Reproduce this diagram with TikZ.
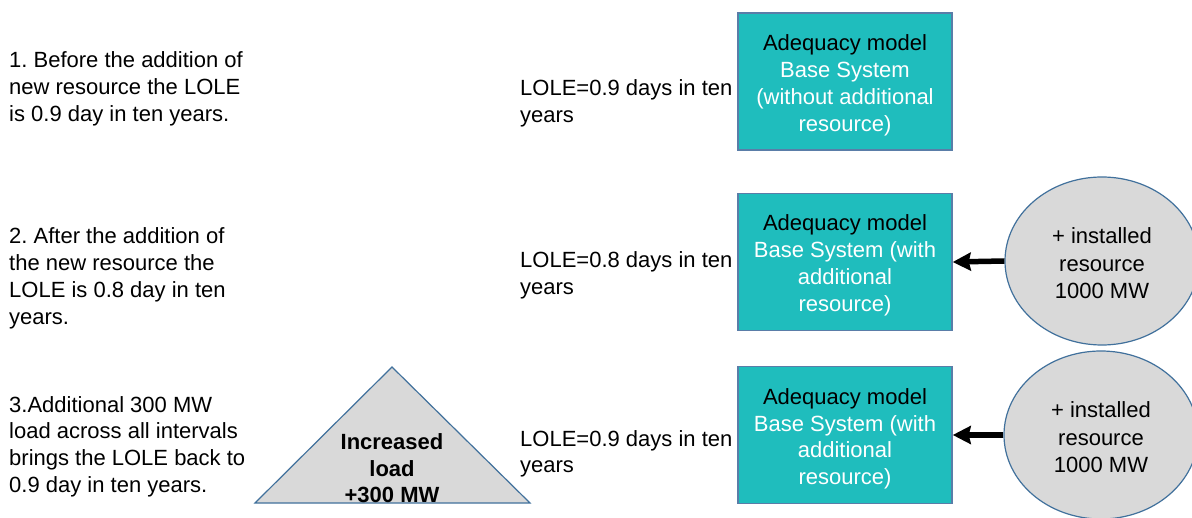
\documentclass[tikz,border=0pt]{standalone}
\usepackage{fontspec}
\setmainfont{Liberation Sans}
\frenchspacing
\usetikzlibrary{shapes.geometric,arrows.meta}
\definecolor{tealfill}{HTML}{1FBDBD}
\definecolor{ellbord}{HTML}{41719C}
\definecolor{boxbord}{HTML}{5A7DA8}
\definecolor{greyfill}{HTML}{D9D9D9}
\begin{document}
\begin{tikzpicture}[x=1pt,y=-1pt,
  txt/.style={font=\fontsize{22}{27}\selectfont, inner sep=0pt, align=left, anchor=base west},
  model/.style={draw=boxbord, line width=1.5pt, fill=tealfill, text=black,
    minimum width=214pt, minimum height=137pt, align=center,
    font=\fontsize{22}{27}\selectfont, inner sep=0pt, text height=100pt, text depth=0pt},
  res/.style={ellipse, draw=ellbord, line width=1.2pt, fill=greyfill,
    minimum width=194pt, minimum height=168pt, align=center,
    font=\fontsize{22}{27.5}\selectfont, inner sep=0pt, text height=76pt, text depth=0pt},
  tri/.style={draw=ellbord, line width=1.2pt, fill=greyfill},
  loadtxt/.style={font=\bfseries\fontsize{22}{26.5}\selectfont, inner sep=0pt, align=center, anchor=base},
  conn/.style={line width=5.5pt, -{Stealth[length=18pt,width=18pt,inset=2pt]}},
]
\fill[white] (0,0) rectangle (1192,518);
\useasboundingbox (0,0) rectangle (1192,518);

% left descriptions (anchored at the baseline of the last line)
\node[txt] (s1) at (9,122) {1. Before the addition of\\new resource the LOLE\\is 0.9 day in ten years.};
\node[txt] (s2) at (9,325) {2. After the addition of\\the new resource the\\LOLE is 0.8 day in ten\\years.};
\node[txt] (s3) at (9,493) {3.Additional 300 MW\\load across all intervals\\brings the LOLE back to\\0.9 day in ten years.};

% LOLE labels
\node[txt] (l1) at (520,123) {LOLE=0.9 days in ten\\years};
\node[txt] (l2) at (520,295) {LOLE=0.8 days in ten\\years};
\node[txt] (l3) at (520,473) {LOLE=0.9 days in ten\\years};

% adequacy models
\node[model] (ad1) at (845,81.5) {Adequacy model\\\textcolor{white}{Base System}\\\textcolor{white}{(without additional}\\\textcolor{white}{resource)}};
\node[model] (ad2) at (845,262) {Adequacy model\\\textcolor{white}{Base System (with}\\\textcolor{white}{additional}\\\textcolor{white}{resource)}};
\node[model] (ad3) at (845,435) {Adequacy model\\\textcolor{white}{Base System (with}\\\textcolor{white}{additional}\\\textcolor{white}{resource)}};

% resources
\node[res] (res2) at (1102,261) {+ installed\\resource\\1000 MW};
\node[res] (res3) at (1101,435) {+ installed\\resource\\1000 MW};

% increased load triangle
\draw[tri] (392,367) -- (530,503) -- (255,503) -- cycle;
\node[loadtxt] (load) at (392,503) {Increased\\load\\+300 MW};

% connectors
\draw[conn] (res2.west) -- (ad2.east);
\draw[conn] (res3.west) -- (ad3.east);
\end{tikzpicture}
\end{document}
